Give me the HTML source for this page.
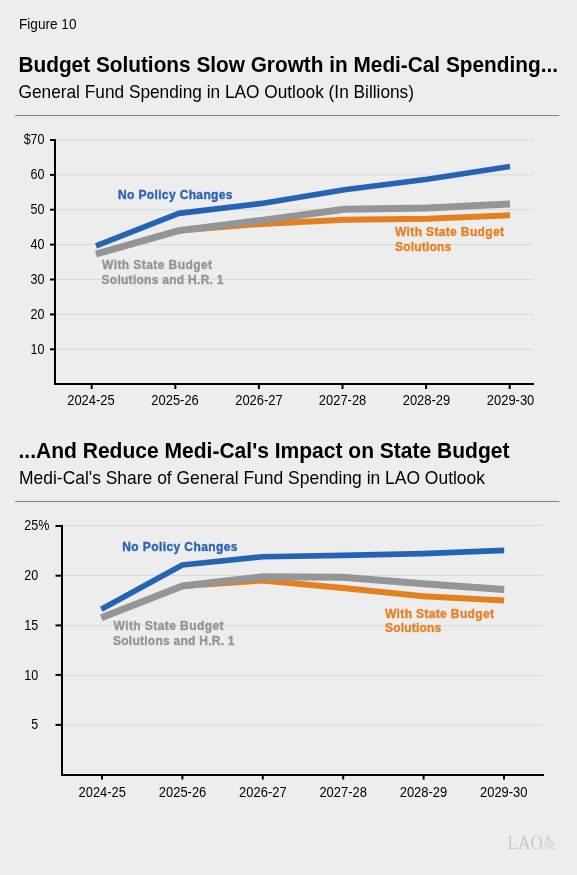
<!DOCTYPE html>
<html><head><meta charset="utf-8">
<style>
html,body{margin:0;padding:0;background:#ecedec;}
#wrap{position:absolute;left:0;top:0;width:577px;height:875px;background:#ecedec;overflow:hidden;will-change:transform;}
svg{position:absolute;left:0;top:0;}
text{font-family:"Liberation Sans",sans-serif;}
</style></head>
<body>
<div id="wrap">
<svg width="577" height="875" viewBox="0 0 577 875">
  <text id="t_fig" x="19" y="29" font-size="15.5" textLength="57.5" lengthAdjust="spacingAndGlyphs">Figure 10</text>
  <text id="t_h1" x="18.5" y="72" font-size="21.8" font-weight="bold" textLength="539.5" lengthAdjust="spacingAndGlyphs">Budget Solutions Slow Growth in Medi-Cal Spending...</text>
  <text id="t_s1" x="18.5" y="97.6" font-size="17.8" textLength="395.5" lengthAdjust="spacingAndGlyphs">General Fund Spending in LAO Outlook (In Billions)</text>
  <text id="t_h2" x="18.5" y="458" font-size="21.8" font-weight="bold" textLength="491" lengthAdjust="spacingAndGlyphs">...And Reduce Medi-Cal's Impact on State Budget</text>
  <text id="t_s2" x="19" y="484" font-size="17.8" textLength="466" lengthAdjust="spacingAndGlyphs">Medi-Cal's Share of General Fund Spending in LAO Outlook</text>

  <!-- rules -->
  <rect x="15" y="115" width="544.2" height="1" fill="#828282"/>
  <rect x="15" y="501" width="544.2" height="1" fill="#828282"/>

  <!-- ============ chart 1 ============ -->
  <g stroke="#d9dada" stroke-width="1">
    <line x1="56" y1="140" x2="534" y2="140"/>
    <line x1="56" y1="174.9" x2="534" y2="174.9"/>
    <line x1="56" y1="209.7" x2="534" y2="209.7"/>
    <line x1="56" y1="244.6" x2="534" y2="244.6"/>
    <line x1="56" y1="279.5" x2="534" y2="279.5"/>
    <line x1="56" y1="314.4" x2="534" y2="314.4"/>
    <line x1="56" y1="349.3" x2="534" y2="349.3"/>
  </g>
  <g font-weight="bold" font-size="12" lengthAdjust="spacing">
    <text id="c1_np" x="118" y="198.6" fill="#2a63b5" stroke="#2a63b5" stroke-width="0.35" textLength="114.5" lengthAdjust="spacing">No Policy Changes</text>
    <text id="c1_g1" x="102" y="269" fill="#939598" stroke="#939598" stroke-width="0.35" textLength="110" lengthAdjust="spacing">With State Budget</text>
    <text id="c1_g2" x="101.5" y="283.8" fill="#939598" stroke="#939598" stroke-width="0.35" textLength="122" lengthAdjust="spacing">Solutions and H.R. 1</text>
    <text id="c1_o1" x="395" y="235.8" fill="#e88127" stroke="#e88127" stroke-width="0.35" textLength="109" lengthAdjust="spacing">With State Budget</text>
    <text id="c1_o2" x="395" y="250.8" fill="#e88127" stroke="#e88127" stroke-width="0.35" textLength="56.3" lengthAdjust="spacing">Solutions</text>
  </g>
  <g stroke="#000" stroke-width="2" fill="none">
    <polyline points="50,140 55,140 55,384 534,384"/>
    <line x1="50" y1="174.9" x2="55" y2="174.9"/>
    <line x1="50" y1="209.7" x2="55" y2="209.7"/>
    <line x1="50" y1="244.6" x2="55" y2="244.6"/>
    <line x1="50" y1="279.5" x2="55" y2="279.5"/>
    <line x1="50" y1="314.4" x2="55" y2="314.4"/>
    <line x1="50" y1="349.3" x2="55" y2="349.3"/>
    <line x1="91.7" y1="384" x2="91.7" y2="389"/>
    <line x1="175.3" y1="384" x2="175.3" y2="389"/>
    <line x1="258.9" y1="384" x2="258.9" y2="389"/>
    <line x1="342.5" y1="384" x2="342.5" y2="389"/>
    <line x1="426.1" y1="384" x2="426.1" y2="389"/>
    <line x1="509.7" y1="384" x2="509.7" y2="389"/>
  </g>
  <g font-size="14" text-anchor="end" fill="#000">
    <text x="44.5" y="144.2" textLength="20.85" lengthAdjust="spacingAndGlyphs">$70</text>
    <text x="44.5" y="179.1" textLength="13.90" lengthAdjust="spacingAndGlyphs">60</text>
    <text x="44.5" y="213.9" textLength="13.90" lengthAdjust="spacingAndGlyphs">50</text>
    <text x="44.5" y="248.8" textLength="13.90" lengthAdjust="spacingAndGlyphs">40</text>
    <text x="44.5" y="283.7" textLength="13.90" lengthAdjust="spacingAndGlyphs">30</text>
    <text x="44.5" y="318.6" textLength="13.90" lengthAdjust="spacingAndGlyphs">20</text>
    <text x="44.5" y="353.5" textLength="13.90" lengthAdjust="spacingAndGlyphs">10</text>
  </g>
  <g font-size="14" fill="#000" lengthAdjust="spacingAndGlyphs">
    <text id="c1_x0" x="67.2" y="404.8" textLength="47.5" lengthAdjust="spacingAndGlyphs">2024-25</text>
    <text x="151.3" y="404.8" textLength="47.5" lengthAdjust="spacingAndGlyphs">2025-26</text>
    <text x="235.2" y="404.8" textLength="47.5" lengthAdjust="spacingAndGlyphs">2026-27</text>
    <text x="318.8" y="404.8" textLength="47.5" lengthAdjust="spacingAndGlyphs">2027-28</text>
    <text x="402.7" y="404.8" textLength="47.5" lengthAdjust="spacingAndGlyphs">2028-29</text>
    <text x="486.8" y="404.8" textLength="47.5" lengthAdjust="spacingAndGlyphs">2029-30</text>
  </g>
  <g fill="none" stroke-linejoin="round" stroke-linecap="butt">
    <polyline stroke="#e4801f" stroke-width="6" points="178.8,230.6 261.6,223.9 344.4,219.7 427.2,218.8 510,215.2"/>
    <polyline stroke="#939598" stroke-width="7" points="96,254.0 178.8,230.6 261.6,220.4 344.4,209.2 427.2,208.0 510,204.0"/>
    <polyline stroke="#2563b3" stroke-width="5.6" points="96,245.9 178.8,213.4 261.6,203.4 344.4,189.8 427.2,179.3 510,166.4"/>
  </g>

  <!-- ============ chart 2 ============ -->
  <g stroke="#d9dada" stroke-width="1">
    <line x1="62.5" y1="525.6" x2="543.5" y2="525.6"/>
    <line x1="62.5" y1="575.5" x2="543.5" y2="575.5"/>
    <line x1="62.5" y1="625.4" x2="543.5" y2="625.4"/>
    <line x1="62.5" y1="675.2" x2="543.5" y2="675.2"/>
    <line x1="62.5" y1="725" x2="543.5" y2="725"/>
  </g>
  <g font-weight="bold" font-size="12">
    <text id="c2_np" x="122.2" y="551" fill="#2a63b5" stroke="#2a63b5" stroke-width="0.35" textLength="115.3" lengthAdjust="spacing">No Policy Changes</text>
    <text id="c2_g1" x="113.5" y="630" fill="#939598" stroke="#939598" stroke-width="0.35" textLength="110" lengthAdjust="spacing">With State Budget</text>
    <text id="c2_g2" x="113" y="644.5" fill="#939598" stroke="#939598" stroke-width="0.35" textLength="121.5" lengthAdjust="spacing">Solutions and H.R. 1</text>
    <text id="c2_o1" x="385" y="617.5" fill="#e88127" stroke="#e88127" stroke-width="0.35" textLength="109" lengthAdjust="spacing">With State Budget</text>
    <text id="c2_o2" x="385" y="632.3" fill="#e88127" stroke="#e88127" stroke-width="0.35" textLength="56.3" lengthAdjust="spacing">Solutions</text>
  </g>
  <g stroke="#000" stroke-width="2" fill="none">
    <polyline points="55.5,526 62,526 62,775 544,775"/>
    <line x1="55.5" y1="575.7" x2="61" y2="575.7"/>
    <line x1="55.5" y1="625.4" x2="61" y2="625.4"/>
    <line x1="55.5" y1="674.9" x2="61" y2="674.9"/>
    <line x1="55.5" y1="724.9" x2="61" y2="724.9"/>
    <line x1="102" y1="775" x2="102" y2="779.6"/>
    <line x1="182.4" y1="775" x2="182.4" y2="779.6"/>
    <line x1="262.8" y1="775" x2="262.8" y2="779.6"/>
    <line x1="343.2" y1="775" x2="343.2" y2="779.6"/>
    <line x1="423.6" y1="775" x2="423.6" y2="779.6"/>
    <line x1="504" y1="775" x2="504" y2="779.6"/>
  </g>
  <g font-size="14" text-anchor="end" fill="#000">
    <text x="38.2" y="530" textLength="13.90" lengthAdjust="spacingAndGlyphs">25</text>
    <text x="38.2" y="530" text-anchor="start" textLength="11.11" lengthAdjust="spacingAndGlyphs">%</text>
    <text x="38.2" y="580" textLength="13.90" lengthAdjust="spacingAndGlyphs">20</text>
    <text x="38.2" y="629.8" textLength="13.90" lengthAdjust="spacingAndGlyphs">15</text>
    <text x="38.2" y="679.6" textLength="13.90" lengthAdjust="spacingAndGlyphs">10</text>
    <text x="38.2" y="729.3" textLength="6.95" lengthAdjust="spacingAndGlyphs">5</text>
  </g>
  <g font-size="14" fill="#000">
    <text x="78.5" y="796.8" textLength="47.5" lengthAdjust="spacingAndGlyphs">2024-25</text>
    <text x="158.8" y="796.8" textLength="47.5" lengthAdjust="spacingAndGlyphs">2025-26</text>
    <text x="239.1" y="796.8" textLength="47.5" lengthAdjust="spacingAndGlyphs">2026-27</text>
    <text x="319.4" y="796.8" textLength="47.5" lengthAdjust="spacingAndGlyphs">2027-28</text>
    <text x="399.7" y="796.8" textLength="47.5" lengthAdjust="spacingAndGlyphs">2028-29</text>
    <text x="480" y="796.8" textLength="47.5" lengthAdjust="spacingAndGlyphs">2029-30</text>
  </g>
  <g fill="none" stroke-linejoin="round" stroke-linecap="butt">
    <polyline stroke="#e4801f" stroke-width="6" points="182.3,585.9 262.6,580.5 342.9,588 423.2,596.2 504.2,600.6"/>
    <polyline stroke="#939598" stroke-width="7" points="101.3,617.7 182.3,585.9 262.6,576.8 342.9,577.3 423.2,583.7 504.2,589.6"/>
    <polyline stroke="#2563b3" stroke-width="5.6" points="101.3,609.2 182.3,565 262.6,556.7 342.9,555.4 423.2,553.6 504.2,550.4"/>
  </g>

  <!-- LAO logo -->
  <text x="507.6" y="849.4" font-size="19.8" fill="#c6c7c7" textLength="35.2" lengthAdjust="spacingAndGlyphs" style="font-family:'Liberation Serif',serif">LAO</text>
  <g stroke="#cbcccc" fill="none" stroke-width="0.8">
    <rect x="547.4" y="836.4" width="1.7" height="2.8" fill="#d8d9d9"/>
    <path d="M545.5,839.6 H549.6 Q552.6,840.6 553.6,845.6"/>
    <path d="M545.5,841.2 H551.2"/>
    <path d="M544,843.4 H552.6"/>
    <path d="M543,845.5 H555"/>
    <path d="M541.8,848.4 Q549,846.6 556.4,849"/>
  </g>
</svg>
</div>
</body></html>
